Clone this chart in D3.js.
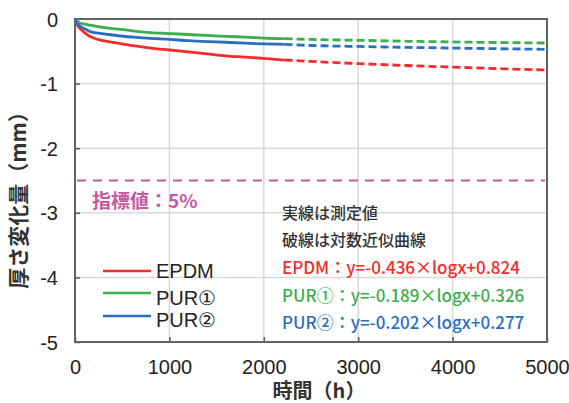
<!DOCTYPE html>
<html>
<head>
<meta charset="utf-8">
<script src="https://cdn.jsdelivr.net/npm/d3@7"></script>
<style>
    body { margin: 0; background: white; }
    svg { display: block; }
    .tick text { font-family: "Liberation Sans", Arial, sans-serif; }
</style>
</head>
<body>
<svg id="chart"></svg>
<script>
    // measured values (solid lines), hours vs thickness change (mm)
    let measHours = [0, 20, 50, 100, 160, 250, 350, 480, 650, 800, 1000, 1200, 1400, 1600, 1800, 2000, 2220];
    let epdmMeas = [0, -0.08, -0.14, -0.21, -0.27, -0.32, -0.35, -0.38, -0.42, -0.45, -0.48, -0.51, -0.54, -0.57, -0.59, -0.61, -0.635];
    let pur1Meas = [0, -0.03, -0.06, -0.08, -0.095, -0.12, -0.14, -0.16, -0.19, -0.21, -0.225, -0.24, -0.255, -0.27, -0.28, -0.295, -0.305];
    let pur2Meas = [0, -0.06, -0.11, -0.15, -0.195, -0.22, -0.24, -0.263, -0.285, -0.30, -0.315, -0.336, -0.35, -0.36, -0.375, -0.385, -0.392];

    // approximation curves (dashed)
    let fitHours = [2220, 2500, 3000, 3500, 4000, 4500, 5000];
    let epdmFit = [-0.635, -0.657, -0.69, -0.72, -0.745, -0.769, -0.79];
    let pur1Fit = [-0.305, -0.316, -0.33, -0.344, -0.355, -0.364, -0.372];
    let pur2Fit = [-0.392, -0.41, -0.425, -0.439, -0.45, -0.46, -0.47];

    let targetValue = -2.5;
    let seriesNames = ["EPDM", "PUR\u2460", "PUR\u2461"];
    let seriesColors = ["#f52a2a", "#3cae4e", "#2a6ebf"];
    let equations = ["EPDM\uFF1Ay=-0.436\u00D7logx+0.824", "PUR\u2460\uFF1Ay=-0.189\u00D7logx+0.326", "PUR\u2461\uFF1Ay=-0.202\u00D7logx+0.277"];
    let xTicks = [0, 1000, 2000, 3000, 4000, 5000];
    let yTicks = [0, -1, -2, -3, -4, -5];

    function draw() {
        let width = 569, height = 403;
        let margin = {left: 75, right: 22, top: 19, bottom: 61};
        let svg = d3.select("#chart").attr("width", width).attr("height", height);

        let x = d3.scaleLinear().domain([0, 5000]).range([margin.left, width - margin.right]);
        let y = d3.scaleLinear().domain([-5, 0]).range([height - margin.bottom, margin.top]);

        // grid
        svg.append("g").selectAll("line").data(xTicks.slice(1, -1)).enter().append("line")
            .attr("x1", d => x(d)).attr("x2", d => x(d))
            .attr("y1", y(0)).attr("y2", y(-5))
            .attr("stroke", "#d9d9d9").attr("stroke-width", 1.5);
        svg.append("g").selectAll("line").data(yTicks.slice(1, -1)).enter().append("line")
            .attr("x1", x(0)).attr("x2", x(5000))
            .attr("y1", d => y(d)).attr("y2", d => y(d))
            .attr("stroke", "#d9d9d9").attr("stroke-width", 1.5);

        // axes (plain hyphen for negatives)
        let fmt = d => String(d);
        let xAxis = svg.append("g").attr("transform", "translate(0," + y(-5) + ")")
            .call(d3.axisBottom(x).tickValues(xTicks).tickSize(-5).tickPadding(14).tickFormat(fmt));
        let yAxis = svg.append("g").attr("transform", "translate(" + x(0) + ",0)")
            .call(d3.axisLeft(y).tickValues(yTicks).tickSize(-5).tickPadding(17).tickFormat(fmt));
        [xAxis, yAxis].forEach(a => {
            a.select(".domain").remove();
            a.selectAll(".tick line").attr("stroke", "#595959").attr("stroke-width", 1.5);
            a.selectAll(".tick text").attr("font-size", 20).attr("fill", "#222");
        });
        xAxis.selectAll(".tick text").attr("dy", "0.9em");
        yAxis.selectAll(".tick text").attr("dy", "0.35em");

        // frame
        svg.append("rect")
            .attr("x", x(0)).attr("y", y(0))
            .attr("width", x(5000) - x(0)).attr("height", y(-5) - y(0))
            .attr("fill", "none").attr("stroke", "#636363").attr("stroke-width", 2);

        // target line
        svg.append("line")
            .attr("x1", x(0) + 2).attr("x2", x(5000) - 2)
            .attr("y1", y(targetValue)).attr("y2", y(targetValue))
            .attr("stroke", "#c8589f").attr("stroke-width", 2.2)
            .attr("stroke-dasharray", "9,7");
        svg.append("text").attr("x", 92).attr("y", 208)
            .attr("font-family", "'Noto Sans CJK JP', sans-serif").attr("font-weight", "bold")
            .attr("font-size", 19).attr("fill", "#c8589f")
            .text("指標値：5%");

        // lines
        let line = d3.line().x(d => x(d[0])).y(d => y(d[1])).curve(d3.curveMonotoneX);
        let meas = [epdmMeas, pur1Meas, pur2Meas];
        let fits = [epdmFit, pur1Fit, pur2Fit];
        meas.forEach((vals, i) => {
            svg.append("path")
                .attr("d", line(measHours.map((h, j) => [h, vals[j]])))
                .attr("fill", "none").attr("stroke", seriesColors[i]).attr("stroke-width", 2.8);
        });
        fits.forEach((vals, i) => {
            svg.append("path")
                .attr("d", line(fitHours.map((h, j) => [h, vals[j]])))
                .attr("fill", "none").attr("stroke", seriesColors[i]).attr("stroke-width", 2.8)
                .attr("stroke-dasharray", "8,4");
        });

        // legend
        let legY = [271, 293, 316];
        let legTextY = [278, 305, 327];
        seriesNames.forEach((n, i) => {
            svg.append("line").attr("x1", 103).attr("x2", 151)
                .attr("y1", legY[i]).attr("y2", legY[i])
                .attr("stroke", seriesColors[i]).attr("stroke-width", 2.5);
            svg.append("text").attr("x", 156).attr("y", legTextY[i])
                .attr("font-family", "'Liberation Sans', Arial, sans-serif")
                .attr("font-size", 20).attr("fill", "#222")
                .text(n);
        });

        // notes
        let noteFont = "'Noto Sans CJK JP', sans-serif";
        svg.append("text").attr("x", 282).attr("y", 219)
            .attr("font-family", noteFont).attr("font-size", 16).attr("font-weight", 500).attr("fill", "#333")
            .text("実線は測定値");
        svg.append("text").attr("x", 282).attr("y", 246)
            .attr("font-family", noteFont).attr("font-size", 16).attr("font-weight", 500).attr("fill", "#333")
            .text("破線は対数近似曲線");
        equations.forEach((eq, i) => {
            svg.append("text").attr("x", 282).attr("y", 274 + i * 27.5)
                .attr("font-family", noteFont).attr("font-size", 17).attr("font-weight", 500)
                .attr("fill", seriesColors[i])
                .text(eq);
        });

        // axis titles
        svg.append("text").attr("x", 319).attr("y", 398)
            .attr("text-anchor", "middle")
            .attr("font-family", noteFont).attr("font-weight", "bold").attr("font-size", 20).attr("fill", "#333")
            .text("時間（h）");
        svg.append("text")
            .attr("transform", "translate(26,195) rotate(-90)")
            .attr("text-anchor", "middle")
            .attr("font-family", noteFont).attr("font-weight", "bold").attr("font-size", 21).attr("fill", "#333")
            .text("厚さ変化量（mm）");
    }
    draw();
</script>
</body>
</html>
